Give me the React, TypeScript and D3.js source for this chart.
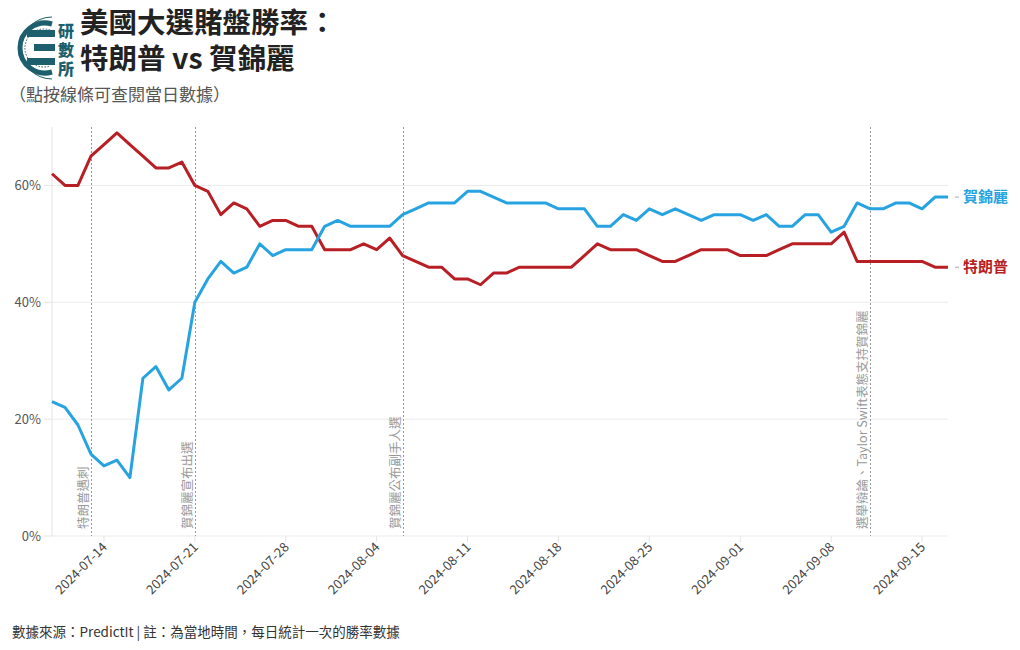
import React from "react";
import * as d3 from "d3";

const startDate = "2024-07-10";
const trumpValues = [62, 60, 60, 65, 67, 69, 67, 65, 63, 63, 64, 60, 59, 55, 57, 56, 53, 54, 54, 53, 53, 49, 49, 49, 50, 49, 51, 48, 47, 46, 46, 44, 44, 43, 45, 45, 46, 46, 46, 46, 46, 48, 50, 49, 49, 49, 48, 47, 47, 48, 49, 49, 49, 48, 48, 48, 49, 50, 50, 50, 50, 52, 47, 47, 47, 47, 47, 47, 46, 46];
const harrisValues = [23, 22, 19, 14, 12, 13, 10, 27, 29, 25, 27, 40, 44, 47, 45, 46, 50, 48, 49, 49, 49, 53, 54, 53, 53, 53, 53, 55, 56, 57, 57, 57, 59, 59, 58, 57, 57, 57, 57, 56, 56, 56, 53, 53, 55, 54, 56, 55, 56, 55, 54, 55, 55, 55, 54, 55, 53, 53, 55, 55, 52, 53, 57, 56, 56, 57, 57, 56, 58, 58];
const yTicks = [0, 20, 40, 60];
const xTickLabels = ["2024-07-14", "2024-07-21", "2024-07-28", "2024-08-04", "2024-08-11", "2024-08-18", "2024-08-25", "2024-09-01", "2024-09-08", "2024-09-15"];
const eventDates = ["2024-07-13", "2024-07-21", "2024-08-06", "2024-09-11"];
const eventLabels = ["特朗普遇刺", "賀錦麗宣布出選", "賀錦麗公布副手人選", "選舉辯論、Taylor Swift表態支持賀錦麗"];
const seriesNames = ["特朗普", "賀錦麗"];
const seriesColors = ["#b81f24", "#27a3e1"];
const titleLines = ["美國大選賭盤勝率：", "特朗普 vs 賀錦麗"];
const logoChars = ["研", "數", "所"];

const FONT = '"Noto Sans CJK TC", "Noto Sans", sans-serif';
const parse = d3.utcParse("%Y-%m-%d");

export default function App() {
  const width = 1020;
  const height = 650;
  const left = 52, right = 948, top = 127, bottom = 536;
  const start = parse(startDate)!;
  const dates = trumpValues.map((_, i) => d3.utcDay.offset(start, i));
  const x = d3.scaleUtc().domain([dates[0], dates[dates.length - 1]]).range([left, right]);
  const y = d3.scaleLinear().domain([0, 70]).range([bottom, top]);
  const series = [trumpValues, harrisValues];
  const line = d3.line<number>().x((_, i) => x(dates[i])).y((v) => y(v));

  return (
    <svg width={width} height={height} style={{ display: "block", margin: "-8px", fontFamily: FONT }}>
      <rect width={width} height={height} fill="#fff" />
      {/* logo */}
      <g fill="none" stroke="#1d5f6c">
        <path d="M 52 24 A 25 25 0 1 0 52 72" strokeWidth={5} />
        <path d="M 50 30 A 19 19 0 1 0 50 66" strokeWidth={1} strokeDasharray="1.5,1.5" />
        <path d="M 52 17 A 31 31 0 1 0 52 79" strokeWidth={1} />
      </g>
      <g fill="#1d5f6c">
        <rect x={27} y={30} width={28} height={7} />
        <rect x={34} y={44} width={21} height={7} />
        <rect x={27} y={58} width={28} height={7} />
        <text x={66} y={37} fontSize={16} fontWeight={900} textAnchor="middle">
          {logoChars.map((c, i) => (
            <tspan key={c} x={66} dy={i === 0 ? 0 : 19}>{c}</tspan>
          ))}
        </text>
      </g>
      {/* title */}
      <text x={80} y={33} fontSize={28.5} fontWeight={700} fill="#222">
        {titleLines.map((t, i) => (
          <tspan key={t} x={80} dy={i === 0 ? 0 : 36}>{t}</tspan>
        ))}
      </text>
      <text x={9} y={101} fontSize={17} fill="#555">（點按線條可查閱當日數據）</text>

      {/* gridlines & y axis */}
      {yTicks.map((t) => (
        <g key={t}>
          <line x1={left} x2={right} y1={y(t)} y2={y(t)} stroke="#ebebeb" />
          <line x1={44} x2={left} y1={y(t)} y2={y(t)} stroke="#e4e4e4" />
          <text x={41} y={y(t)} dy="0.35em" textAnchor="end" fontSize={13} fill="#555">{t}%</text>
        </g>
      ))}
      <line x1={left} x2={left} y1={top} y2={bottom} stroke="#e4e4e4" />

      {/* x axis */}
      {xTickLabels.map((s) => {
        const xx = x(parse(s)!);
        return (
          <g key={s}>
            <line x1={xx} x2={xx} y1={bottom} y2={bottom + 6} stroke="#e4e4e4" />
            <text transform={`translate(${xx + 4},${bottom + 12}) rotate(-45)`} textAnchor="end" fontSize={13} fill="#444">{s}</text>
          </g>
        );
      })}

      {/* events */}
      {eventDates.map((s, i) => {
        const xx = Math.round(x(parse(s)!)) + 0.5;
        return (
          <g key={s}>
            <line x1={xx} x2={xx} y1={top} y2={bottom} stroke="#999" strokeDasharray="2,2" />
            <text transform={`translate(${xx - 4},${bottom - 7}) rotate(-90)`} fontSize={12.5} fill="#999">{eventLabels[i]}</text>
          </g>
        );
      })}

      {/* lines */}
      {series.map((vals, k) => (
        <path key={k} d={line(vals) || ""} fill="none" stroke={seriesColors[k]} strokeWidth={3} strokeLinejoin="round" />
      ))}

      {/* end labels */}
      {series.map((vals, k) => {
        const yy = y(vals[vals.length - 1]);
        return (
          <g key={k}>
            <line x1={955} x2={959} y1={yy} y2={yy} stroke="#aaa" />
            <text x={963} y={yy} dy="0.35em" fontSize={15} fontWeight={700} fill={seriesColors[k]}>{seriesNames[k]}</text>
          </g>
        );
      })}

      <text x={12} y={637} fontSize={13.5} fill="#333">數據來源：PredictIt | 註：為當地時間，每日統計一次的勝率數據</text>
    </svg>
  );
}
